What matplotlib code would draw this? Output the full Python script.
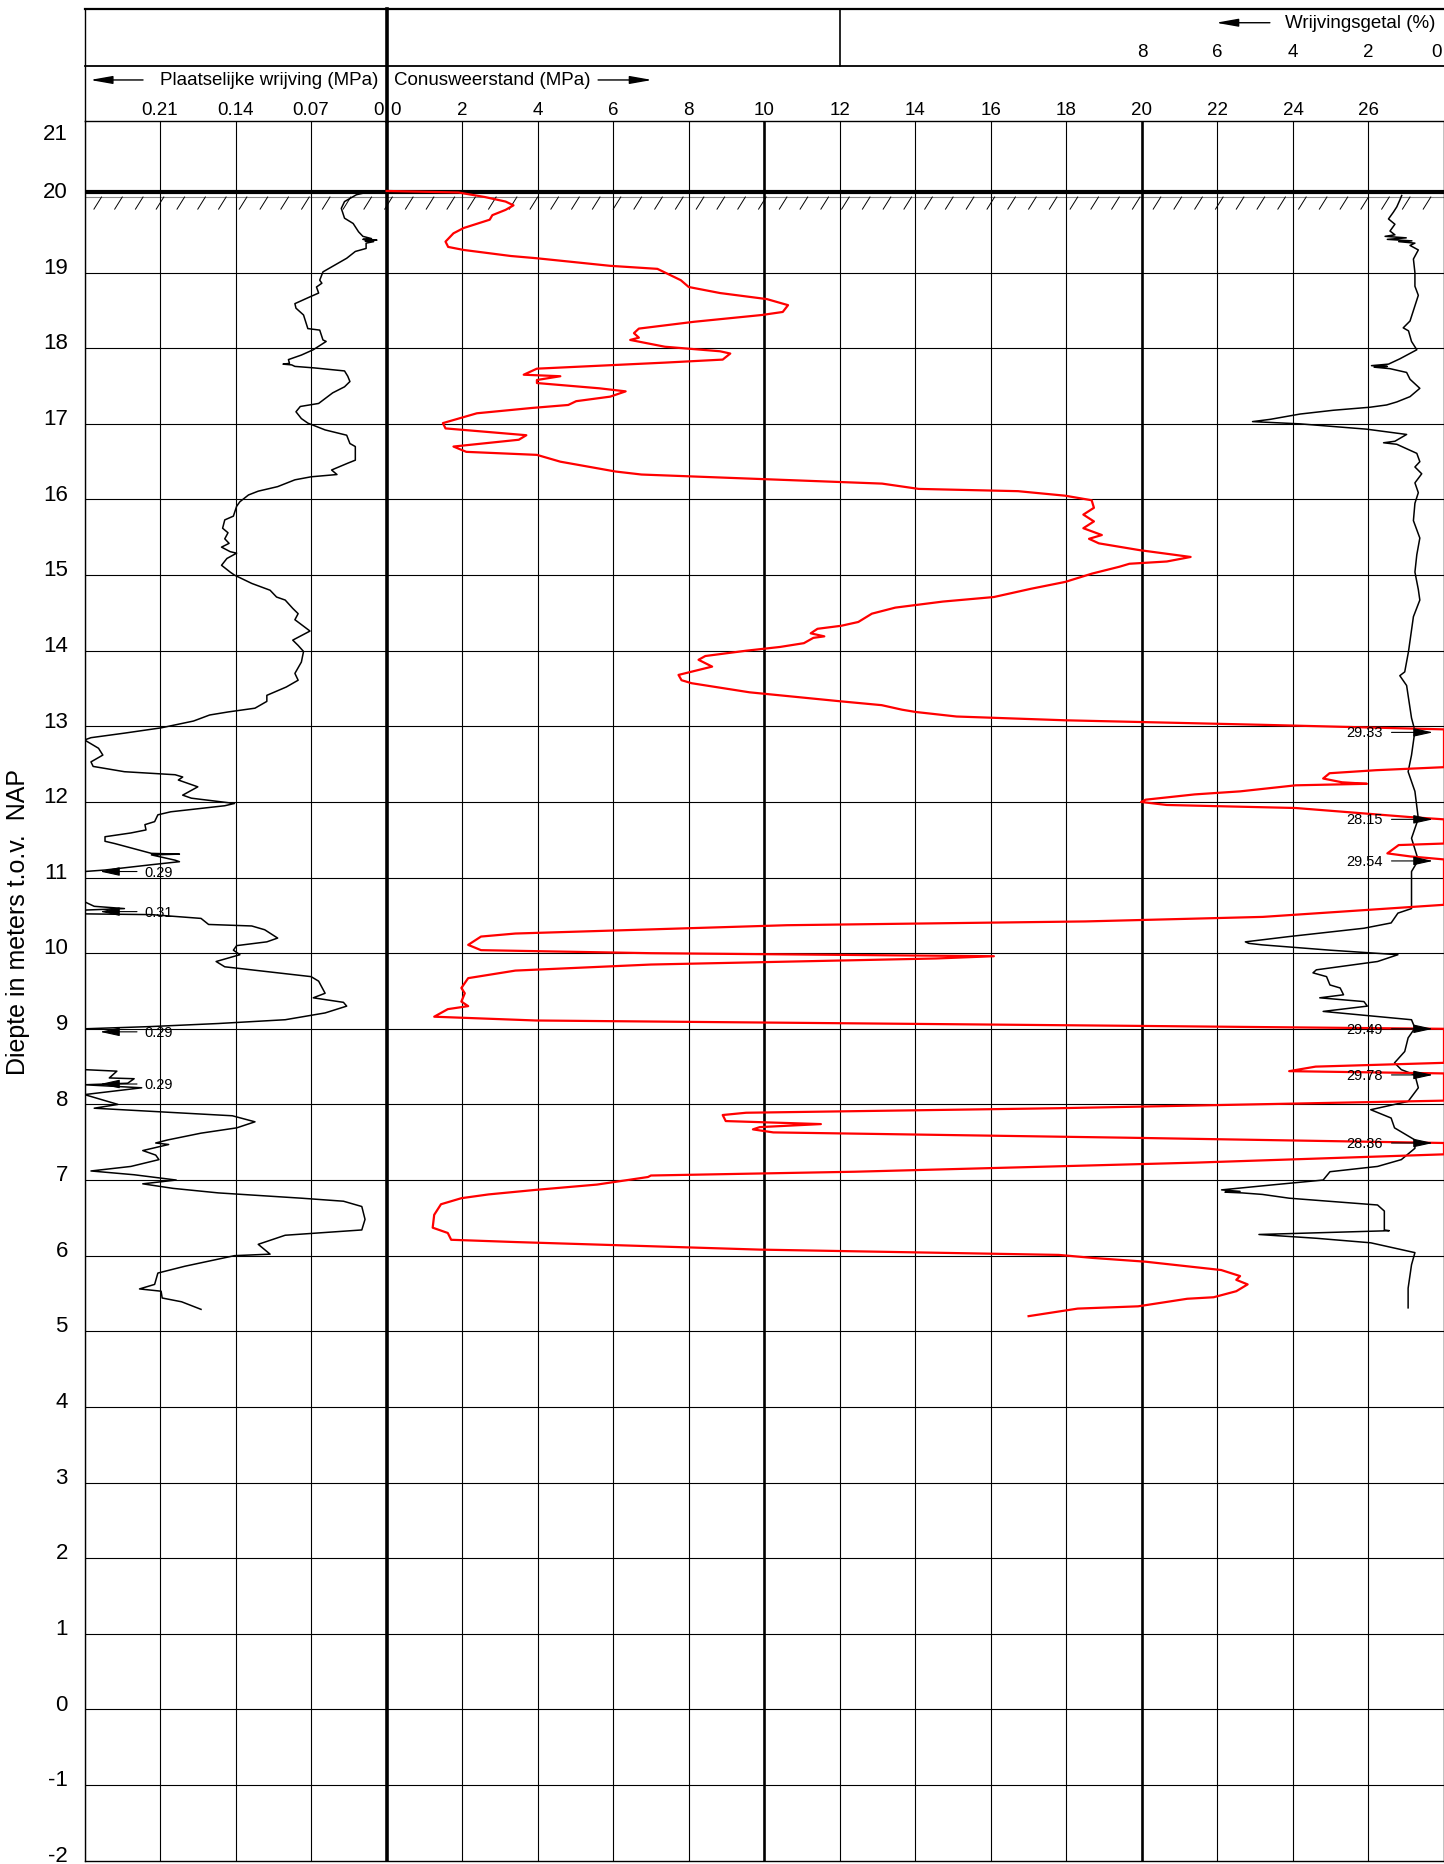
import numpy as np
import matplotlib
matplotlib.use("Agg")
import matplotlib.pyplot as plt

plt.rcParams["font.family"] = ["Liberation Sans", "DejaVu Sans"]

# ---- data (read off the reference sondering) ----
# conusweerstand qc [MPa] vs depth [m NAP]; values above 28 run off the scale
qc_depth = [20.08, 20.06, 20.00, 19.94, 19.89, 19.83, 19.76, 19.70, 19.59, 19.52, 19.41, 19.34, 19.30,
            19.22, 19.19, 19.09, 19.05, 18.90, 18.81, 18.73, 18.65, 18.57, 18.48, 18.44, 18.35, 18.26,
            18.20, 18.14, 18.11, 18.02, 17.96, 17.93, 17.85, 17.81, 17.73, 17.65, 17.63, 17.58, 17.54,
            17.47, 17.43, 17.36, 17.30, 17.25, 17.21, 17.14, 17.01, 16.94, 16.85, 16.79, 16.70, 16.63,
            16.59, 16.50, 16.37, 16.33, 16.27, 16.21, 16.14, 16.11, 16.05, 15.99, 15.89, 15.80, 15.71,
            15.62, 15.53, 15.48, 15.42, 15.33, 15.24, 15.18, 15.15, 15.11, 15.02, 14.91, 14.82, 14.71,
            14.65, 14.57, 14.49, 14.38, 14.33, 14.29, 14.23, 14.19, 14.17, 14.10, 14.05, 14.00, 13.93,
            13.88, 13.79, 13.68, 13.61, 13.57, 13.45, 13.33, 13.28, 13.22, 13.19, 13.13, 13.08, 13.02,
            12.96, 12.92, 12.80, 12.60, 12.46, 12.42, 12.38, 12.31, 12.26, 12.24, 12.22, 12.14, 12.10,
            12.03, 12.00, 11.96, 11.92, 11.80, 11.77, 11.60, 11.45, 11.43, 11.32, 11.28, 11.24, 11.22,
            11.00, 10.80, 10.64, 10.48, 10.42, 10.37, 10.26, 10.22, 10.11, 10.04, 10.00, 9.96, 9.93,
            9.85, 9.77, 9.67, 9.54, 9.47, 9.36, 9.30, 9.26, 9.16, 9.11, 9.04, 9.00, 8.80, 8.55, 8.50,
            8.44, 8.41, 8.20, 8.05, 7.95, 7.89, 7.86, 7.78, 7.74, 7.70, 7.67, 7.63, 7.56, 7.49, 7.40,
            7.34, 7.23, 7.11, 7.06, 7.04, 6.94, 6.87, 6.81, 6.76, 6.68, 6.54, 6.37, 6.30, 6.21, 6.18,
            6.08, 6.01, 5.97, 5.92, 5.81, 5.73, 5.68, 5.62, 5.53, 5.45, 5.43, 5.33, 5.30, 5.20]
qc_value = [0.0, 1.9, 2.6, 3.15, 3.36, 3.15, 2.8, 2.73, 2.04, 1.77, 1.56, 1.63, 2.04,
            3.29, 3.98, 5.92, 7.17, 7.79, 8.0, 8.83, 10.07, 10.63, 10.49, 9.94, 8.14, 6.68,
            6.55, 6.68, 6.45, 7.37, 8.83, 9.1, 8.9, 7.37, 3.98, 3.63, 4.6, 3.98, 3.98,
            5.64, 6.33, 5.92, 5.02, 4.81, 3.84, 2.39, 1.49, 1.56, 3.70, 3.5, 1.77, 2.11,
            3.98, 4.6, 6.06, 6.75, 9.94, 13.12, 14.09, 16.72, 17.97, 18.67, 18.73, 18.45, 18.73,
            18.45, 18.94, 18.6, 18.86, 19.94, 21.29, 20.66, 19.67, 19.4, 18.68, 17.97, 17.07, 16.08,
            14.73, 13.47, 12.85, 12.49, 12.04, 11.41, 11.23, 11.59, 11.3, 11.05, 10.42, 9.52, 8.44,
            8.26, 8.62, 7.73, 7.81, 8.08, 9.61, 12.04, 13.11, 13.65, 14.01, 15.09, 17.97, 23.2,
            28.0, 29.33, 28.4, 28.2, 28.1, 26.2, 24.97, 24.8, 25.3, 25.96, 24.07, 22.6, 21.4,
            20.1, 19.98, 20.66, 24.07, 27.1, 28.15, 28.1, 28.05, 26.8, 26.5, 27.1, 28.2, 29.54,
            28.6, 28.3, 28.05, 23.2, 18.5, 10.6, 3.41, 2.5, 2.16, 2.5, 7.0, 16.08, 14.55,
            7.0, 3.41, 2.16, 1.98, 2.07, 1.98, 2.16, 1.62, 1.26, 3.95, 19.58, 29.49, 28.4, 28.1, 24.6,
            23.9, 29.78, 28.5, 28.1, 17.8, 9.52, 8.9, 8.98, 11.5, 9.88, 9.7, 10.24, 19.58, 28.36, 28.1,
            28.0, 21.4, 12.4, 7.0, 6.92, 5.57, 3.95, 2.7, 1.98, 1.44, 1.26, 1.22, 1.62, 1.71, 3.41,
            9.88, 17.8, 18.7, 20.1, 22.1, 22.6, 22.5, 22.8, 22.5, 21.9, 21.2, 19.9, 18.3, 17.0]

# plaatselijke wrijving fs [MPa]
fs_depth = [20.05, 20.03, 19.94, 19.85, 19.72, 19.65, 19.54, 19.48, 19.45, 19.44, 19.43, 19.42, 19.41,
            19.39, 19.32, 19.28, 19.19, 19.10, 19.01, 18.90, 18.86, 18.81, 18.73, 18.68, 18.59, 18.53,
            18.44, 18.26, 18.24, 18.11, 18.09, 17.98, 17.91, 17.85, 17.80, 17.79, 17.78, 17.76, 17.74,
            17.70, 17.63, 17.56, 17.49, 17.41, 17.27, 17.23, 17.16, 17.07, 17.01, 16.92, 16.85, 16.74,
            16.70, 16.59, 16.52, 16.48, 16.39, 16.33, 16.30, 16.26, 16.17, 16.11, 16.06, 15.97, 15.91,
            15.78, 15.73, 15.62, 15.56, 15.48, 15.42, 15.37, 15.31, 15.29, 15.22, 15.13, 15.04, 15.00,
            14.89, 14.80, 14.71, 14.67, 14.56, 14.49, 14.41, 14.26, 14.14, 14.07, 13.99, 13.85, 13.70,
            13.61, 13.52, 13.41, 13.33, 13.24, 13.19, 13.15, 13.07, 12.98, 12.91, 12.85, 12.82, 12.71,
            12.62, 12.53, 12.47, 12.40, 12.36, 12.33, 12.29, 12.20, 12.09, 12.05, 11.98, 11.95, 11.87,
            11.83, 11.74, 11.70, 11.63, 11.59, 11.54, 11.48, 11.45, 11.32, 11.31, 11.30, 11.23, 11.21,
            11.17, 11.10, 11.08, 10.68, 10.62, 10.59, 10.57, 10.52, 10.51, 10.46, 10.38, 10.36, 10.31,
            10.20, 10.15, 10.10, 10.04, 9.98, 9.89, 9.82, 9.69, 9.63, 9.47, 9.41, 9.35, 9.30, 9.21,
            9.12, 9.07, 9.03, 9.00, 8.46, 8.44, 8.35, 8.34, 8.28, 8.26, 8.22, 8.13, 8.00, 7.95, 7.85,
            7.77, 7.69, 7.62, 7.53, 7.49, 7.47, 7.39, 7.33, 7.27, 7.18, 7.12, 7.07, 7.00, 6.95, 6.89,
            6.83, 6.76, 6.72, 6.65, 6.48, 6.34, 6.27, 6.15, 6.02, 6.00, 5.86, 5.77, 5.62, 5.56, 5.53,
            5.44, 5.39, 5.29]
fs_value = [0.022, 0.028, 0.039, 0.042, 0.039, 0.031, 0.026, 0.022, 0.014, 0.022, 0.009, 0.020, 0.012,
            0.019, 0.019, 0.029, 0.037, 0.048, 0.059, 0.062, 0.060, 0.065, 0.063, 0.071, 0.085, 0.084,
            0.077, 0.073, 0.062, 0.059, 0.056, 0.068, 0.079, 0.091, 0.090, 0.096, 0.088, 0.085, 0.067,
            0.039, 0.036, 0.034, 0.039, 0.050, 0.063, 0.080, 0.084, 0.079, 0.073, 0.057, 0.037, 0.034,
            0.029, 0.029, 0.029, 0.036, 0.051, 0.046, 0.070, 0.085, 0.101, 0.119, 0.128, 0.136, 0.139,
            0.142, 0.150, 0.152, 0.147, 0.150, 0.146, 0.153, 0.145, 0.139, 0.148, 0.153, 0.145, 0.141,
            0.125, 0.108, 0.102, 0.094, 0.087, 0.082, 0.085, 0.071, 0.087, 0.082, 0.077, 0.079, 0.085,
            0.082, 0.093, 0.111, 0.111, 0.122, 0.147, 0.164, 0.179, 0.209, 0.243, 0.274, 0.280, 0.267,
            0.263, 0.274, 0.272, 0.243, 0.196, 0.189, 0.193, 0.175, 0.189, 0.181, 0.141, 0.150, 0.200,
            0.212, 0.215, 0.224, 0.223, 0.237, 0.261, 0.261, 0.252, 0.218, 0.192, 0.218, 0.196, 0.192,
            0.218, 0.261, 0.280, 0.280, 0.271, 0.243, 0.280, 0.280, 0.218, 0.172, 0.165, 0.125, 0.113,
            0.101, 0.111, 0.139, 0.142, 0.136, 0.158, 0.150, 0.070, 0.063, 0.057, 0.068, 0.040, 0.037, 0.057,
            0.094, 0.156, 0.218, 0.280, 0.280, 0.250, 0.257, 0.234, 0.240, 0.280, 0.227, 0.280, 0.249, 0.271, 0.143,
            0.122, 0.139, 0.172, 0.203, 0.214, 0.202, 0.226, 0.214, 0.211, 0.237, 0.274, 0.234, 0.195, 0.226, 0.198,
            0.156, 0.079, 0.040, 0.023, 0.020, 0.023, 0.094, 0.119, 0.108, 0.141, 0.187, 0.212, 0.215, 0.229, 0.209,
            0.208, 0.190, 0.172]

# wrijvingsgetal Rf [%]
rf_depth = [20.02, 19.96, 19.87, 19.80, 19.71, 19.64, 19.55, 19.50, 19.48, 19.46, 19.44, 19.42, 19.41,
            19.39, 19.36, 19.30, 19.18, 19.00, 18.82, 18.70, 18.50, 18.36, 18.27, 18.23, 18.09, 17.98,
            17.86, 17.79, 17.77, 17.76, 17.75, 17.73, 17.68, 17.59, 17.47, 17.36, 17.29, 17.25, 17.22,
            17.18, 17.13, 17.06, 17.03, 17.00, 16.93, 16.86, 16.77, 16.75, 16.73, 16.61, 16.50, 16.43,
            16.34, 16.22, 16.09, 15.95, 15.72, 15.49, 15.27, 15.04, 14.81, 14.67, 14.45, 14.13, 13.99,
            13.72, 13.67, 13.54, 13.41, 13.11, 12.94, 12.62, 12.40, 12.14, 11.78, 11.52, 11.23, 11.08,
            10.59, 10.53, 10.40, 10.33, 10.22, 10.15, 10.13, 10.11, 10.04, 9.98, 9.89, 9.78, 9.74,
            9.69, 9.58, 9.54, 9.45, 9.41, 9.36, 9.30, 9.23, 9.12, 9.01, 8.88, 8.70, 8.55, 8.46, 8.39,
            8.22, 8.04, 7.93, 7.82, 7.69, 7.53, 7.42, 7.27, 7.18, 7.11, 7.00, 6.94, 6.87, 6.85, 6.84,
            6.83, 6.81, 6.76, 6.67, 6.59, 6.34, 6.33, 6.28, 6.23, 6.17, 6.04, 5.88, 5.57, 5.31]
rf_value = [1.12, 1.17, 1.25, 1.34, 1.47, 1.30, 1.43, 1.30, 1.56, 1.00, 1.50, 0.85, 1.20,
            0.77, 0.90, 0.68, 0.81, 0.77, 0.77, 0.68, 0.81, 0.90, 1.08, 0.94, 0.86, 0.72,
            1.17, 1.47, 1.92, 1.50, 1.85, 1.43, 0.99, 0.90, 0.64, 0.90, 1.25, 1.52, 1.96,
            2.93, 3.81, 4.60, 5.07, 3.81, 2.05, 0.99, 1.30, 1.60, 1.25, 0.72, 0.64, 0.77,
            0.59, 0.77, 0.68, 0.77, 0.81, 0.64, 0.72, 0.77, 0.68, 0.64, 0.81, 0.90, 0.94,
            1.04, 1.17, 0.99, 0.95, 0.86, 0.77, 0.86, 0.95, 0.77, 0.68, 0.86, 0.68, 0.86,
            0.86, 1.22, 1.40, 2.12, 4.10, 5.26, 5.17, 4.81, 3.02, 1.22, 1.76, 3.38, 3.47,
            3.11, 3.02, 2.75, 2.66, 3.29, 2.12, 2.03, 3.20, 0.86, 0.77, 0.95, 1.04, 1.31, 1.13, 0.77,
            0.68, 0.95, 1.94, 1.40, 1.31, 0.77, 0.77, 1.13, 1.76, 3.02, 3.20, 4.46, 5.89, 5.40, 5.80,
            5.35, 4.81, 4.10, 1.76, 1.58, 1.58, 1.45, 4.90, 3.38, 1.94, 0.77, 0.86, 0.95, 0.95]

# off-scale values printed next to the edge
fs_over_depth = [11.08, 10.55, 8.96, 8.27]
fs_over_label = ["0.29", "0.31", "0.29", "0.29"]
qc_over_depth = [12.92, 11.77, 11.22, 9.00, 8.39, 7.49]
qc_over_label = ["29.33", "28.15", "29.54", "29.49", "29.78", "28.36"]

depth_ticks = list(range(-2, 22))
qc_ticks = [0, 2, 4, 6, 8, 10, 12, 14, 16, 18, 20, 22, 24, 26]
fs_ticks = [0.21, 0.14, 0.07, 0]
fs_tick_labels = ["0.21", "0.14", "0.07", "0"]
rf_ticks = [8, 6, 4, 2, 0]
ground_level = 20.06

# ---- scales: everything is drawn in qc units on x ----
QC_MAX = 28.0
FS_PER_UNIT = 0.035      # 0.07 MPa per 2 MPa column
FS_MAX = 8 * FS_PER_UNIT


def fs_x(v):
    return -np.minimum(np.asarray(v, float), FS_MAX) / FS_PER_UNIT


def rf_x(v):
    return QC_MAX - np.asarray(v, float)


W, H = 1444, 1865
fig = plt.figure(figsize=(W / 100, H / 100), dpi=100)
L, R, TOP_H, TOP_A, BOT = 84.5, 1444.0, 9.5, 122.4, 1861.6
ax = fig.add_axes([L / W, (H - BOT) / H, (R - L) / W, (BOT - TOP_A) / H])
hx = fig.add_axes([L / W, (H - TOP_A) / H, (R - L) / W, (TOP_A - TOP_H) / H])

ax.set_xlim(-8, QC_MAX)
ax.set_ylim(-2, 21)
ax.set_xticks([])
ax.set_yticks([])
for s in ax.spines.values():
    s.set_linewidth(1.0)

# grid
for d in range(-1, 21):
    ax.axhline(d, color="#888888" if d == 20 else "black", lw=0.8, zorder=1)
for x in range(-8, 29, 2):
    thick = x in (0, 10, 20)
    lw = 2.6 if x == 0 else (1.9 if thick else 0.8)
    ax.axvline(x, color="black", lw=lw, zorder=1)

# maaiveld with hatching
ax.axhline(ground_level, color="black", lw=3.0, zorder=2)
for hxp in np.arange(-7.75, QC_MAX, 0.55):
    ax.plot([hxp, hxp + 0.2], [19.84, 20.0], color="black", lw=0.7, zorder=2)

# curves
ax.plot(np.minimum(qc_value, QC_MAX), qc_depth, color="#ff0000", lw=1.6, zorder=4)
ax.plot(fs_x(fs_value), fs_depth, color="black", lw=1.1, zorder=3)
ax.plot(rf_x(rf_value), rf_depth, color="black", lw=1.1, zorder=3)

arrow_small = dict(arrowstyle="-|>,head_length=1.0,head_width=0.22", color="black",
                   lw=0.8, shrinkA=0, shrinkB=0, mutation_scale=12)
for d, t in zip(fs_over_depth, fs_over_label):
    ax.annotate("", xy=(-7.59, d), xytext=(-6.61, d), arrowprops=arrow_small, zorder=5)
    ax.text(-6.42, d, t, ha="left", va="center", fontsize=10.5, zorder=5)
for d, t in zip(qc_over_depth, qc_over_label):
    ax.annotate("", xy=(27.71, d), xytext=(26.61, d), arrowprops=arrow_small, zorder=5)
    ax.text(26.39, d, t, ha="right", va="center", fontsize=10.5, zorder=5)

# depth labels
for d in depth_ticks:
    yy = 20.84 if d == 21 else d + 0.07
    ax.text(-8.44, yy, str(d), ha="right", va="center", fontsize=16, clip_on=False)
fig.text(18 / W, 1 - 922 / H, "Diepte in meters t.o.v.  NAP", rotation=90,
         ha="center", va="center", fontsize=18)

# ---- header ----
hx.set_xlim(-8, QC_MAX)
hx.set_ylim(0, 1)
hx.axis("off")
ROW = 0.494
hk = dict(color="black", clip_on=False)
hx.plot([-8, QC_MAX], [1, 1], lw=1.6, **hk)
hx.plot([-8, QC_MAX], [ROW, ROW], lw=1.3, **hk)
hx.plot([-8, -8], [0, 1], lw=1.0, **hk)
hx.plot([0, 0], [0, 1], lw=2.6, **hk)
hx.plot([12, 12], [ROW, 1], lw=1.2, **hk)

arrow_big = dict(arrowstyle="-|>,head_length=0.9,head_width=0.16", color="black",
                 lw=1.0, shrinkA=0, shrinkB=0, mutation_scale=15)
hx.text(27.78, 0.874, "Wrijvingsgetal (%)", ha="right", va="center", fontsize=13.5)
hx.annotate("", xy=(21.96, 0.874), xytext=(23.39, 0.874), arrowprops=arrow_big)
for v in rf_ticks:
    x = rf_x(v)
    if v == 0:
        hx.text(x - 0.05, 0.621, str(v), ha="right", va="center", fontsize=13.5)
    else:
        hx.text(x, 0.621, str(v), ha="center", va="center", fontsize=13.5)

hx.text(-0.23, 0.367, "Plaatselijke wrijving (MPa)", ha="right", va="center", fontsize=13.5)
hx.annotate("", xy=(-7.85, 0.367), xytext=(-6.45, 0.367), arrowprops=arrow_big)
hx.text(0.2, 0.367, "Conusweerstand (MPa)", ha="left", va="center", fontsize=13.5)
hx.annotate("", xy=(7.03, 0.367), xytext=(5.6, 0.367), arrowprops=arrow_big)

for v, t in zip(fs_ticks, fs_tick_labels):
    x = fs_x(v)
    if v == 0:
        hx.text(x - 0.08, 0.105, t, ha="right", va="center", fontsize=13.5)
    else:
        hx.text(x, 0.105, t, ha="center", va="center", fontsize=13.5)
for v in qc_ticks:
    if v == 0:
        hx.text(0.1, 0.105, "0", ha="left", va="center", fontsize=13.5)
    else:
        hx.text(v, 0.105, str(v), ha="center", va="center", fontsize=13.5)

fig.savefig("out.png", dpi=100)
